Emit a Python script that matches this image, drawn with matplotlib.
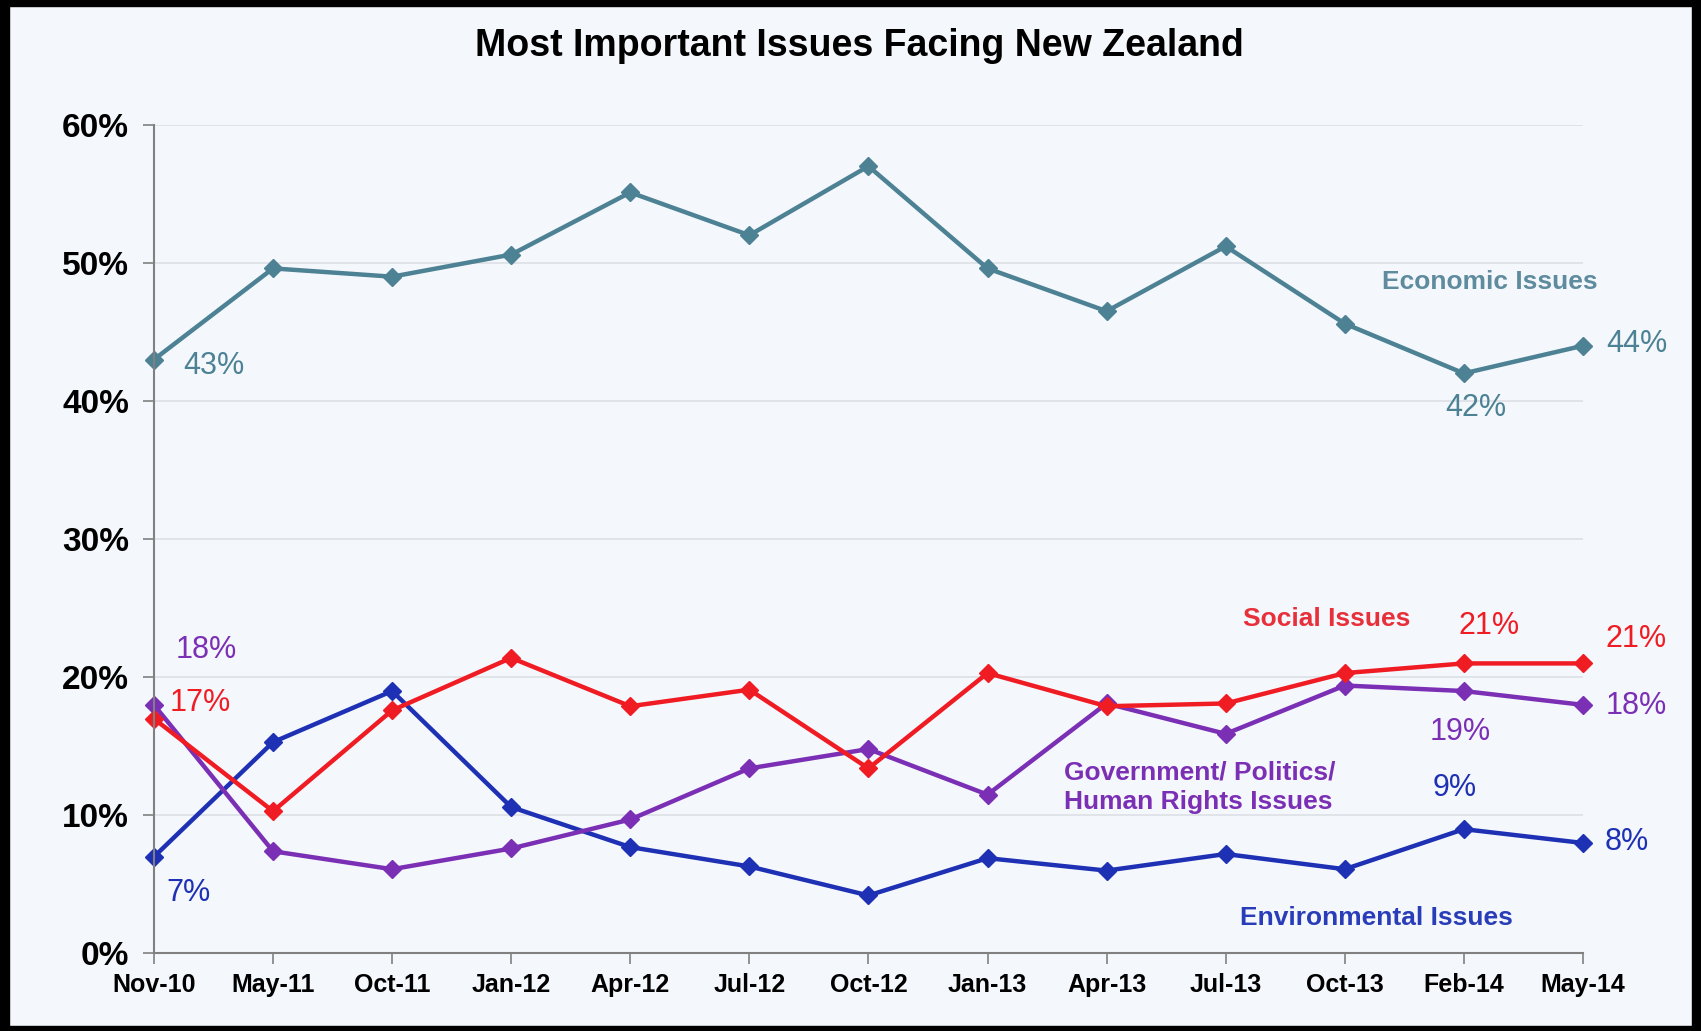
import matplotlib.pyplot as plt
from matplotlib.patches import Rectangle

plt.rcParams['font.family'] = ['Liberation Sans', 'DejaVu Sans']

months = ["Nov-10", "May-11", "Oct-11", "Jan-12", "Apr-12", "Jul-12", "Oct-12",
          "Jan-13", "Apr-13", "Jul-13", "Oct-13", "Feb-14", "May-14"]

economic = [43, 49.6, 49.0, 50.6, 55.1, 52.0, 57.0, 49.6, 46.5, 51.2, 45.6, 42, 44]
social = [17, 10.3, 17.6, 21.4, 17.9, 19.1, 13.4, 20.3, 17.9, 18.1, 20.3, 21, 21]
government = [18, 7.4, 6.1, 7.6, 9.7, 13.4, 14.8, 11.5, 18.1, 15.9, 19.4, 19, 18]
environmental = [7, 15.3, 19.0, 10.6, 7.7, 6.3, 4.2, 6.9, 6.0, 7.2, 6.1, 9, 8]

c_econ = "#4D8194"
c_social = "#F01C24"
c_gov = "#7B2FB5"
c_env = "#1E30B4"

bg = "#F4F8FC"
fig = plt.figure(figsize=(17.01, 10.31), dpi=100, facecolor=bg)

# dark frame around the slide
for x, y, w, h in [(0, 0, 0.0055, 1), (0.9945, 0, 0.0055, 1), (0, 0, 1, 0.005), (0, 0.994, 1, 0.006)]:
    fig.add_artist(Rectangle((x, y), w, h, transform=fig.transFigure, color="black", zorder=10))

ax = fig.add_axes([0.0905, 0.0752, 0.8401, 0.8038])
ax.set_facecolor(bg)

x = list(range(len(months)))
series = [(economic, c_econ), (social, c_social), (government, c_gov), (environmental, c_env)]
for vals, col in series[::-1]:
    ax.plot(x, vals, color=col, lw=3.2, marker="D", markersize=9.5, clip_on=False)

ax.set_xlim(0, len(months) - 1)
ax.set_ylim(0, 60)
ax.set_yticks(range(0, 61, 10))
ax.set_yticklabels([f"{v}%" for v in range(0, 61, 10)], fontsize=24, fontweight="bold")
ax.set_xticks(x)
ax.set_xticklabels(months, fontsize=18, fontweight="bold")
ax.tick_params(axis="both", length=8, width=1.2, color="#808080", direction="out")
ax.tick_params(axis="y", pad=10)
ax.tick_params(axis="x", pad=6)
ax.yaxis.grid(True, color="#DCDFE3", lw=1.2)
ax.set_axisbelow(True)
for s in ["top", "right"]:
    ax.spines[s].set_visible(False)
for s in ["left", "bottom"]:
    ax.spines[s].set_color("#808080")
    ax.spines[s].set_linewidth(1.5)

fig.text(0.505, 0.955, "Most Important Issues Facing New Zealand",
         ha="center", va="center", fontsize=27, fontweight="bold")

# value labels
vlabels = [
    (0.50, 42.5, "43%", c_econ), (12.45, 44.1, "44%", c_econ), (11.1, 39.5, "42%", c_econ),
    (0.44, 22.0, "18%", c_gov), (0.39, 18.1, "17%", c_social), (0.29, 4.4, "7%", c_env),
    (11.21, 23.7, "21%", c_social), (12.45, 22.8, "21%", c_social),
    (12.45, 17.9, "18%", c_gov), (10.97, 16.0, "19%", c_gov),
    (10.92, 12.0, "9%", c_env), (12.37, 8.1, "8%", c_env),
]
for lx, ly, t, col in vlabels:
    ax.text(lx, ly, t, color=col, fontsize=22, ha="center", va="center", clip_on=False)

# series names
ax.text(11.22, 48.6, "Economic Issues", color="#5E8B9D", fontsize=19, fontweight="bold",
        ha="center", va="center")
ax.text(9.85, 24.2, "Social Issues", color="#E8303A", fontsize=19, fontweight="bold",
        ha="center", va="center")
ax.text(7.64, 12.05, "Government/ Politics/\nHuman Rights Issues", color=c_gov, fontsize=19,
        fontweight="bold", ha="left", va="center", linespacing=1.3)
ax.text(10.27, 2.6, "Environmental Issues", color="#2A3DB8", fontsize=19, fontweight="bold",
        ha="center", va="center")

fig.savefig("out.png", dpi=100, facecolor=fig.get_facecolor())
